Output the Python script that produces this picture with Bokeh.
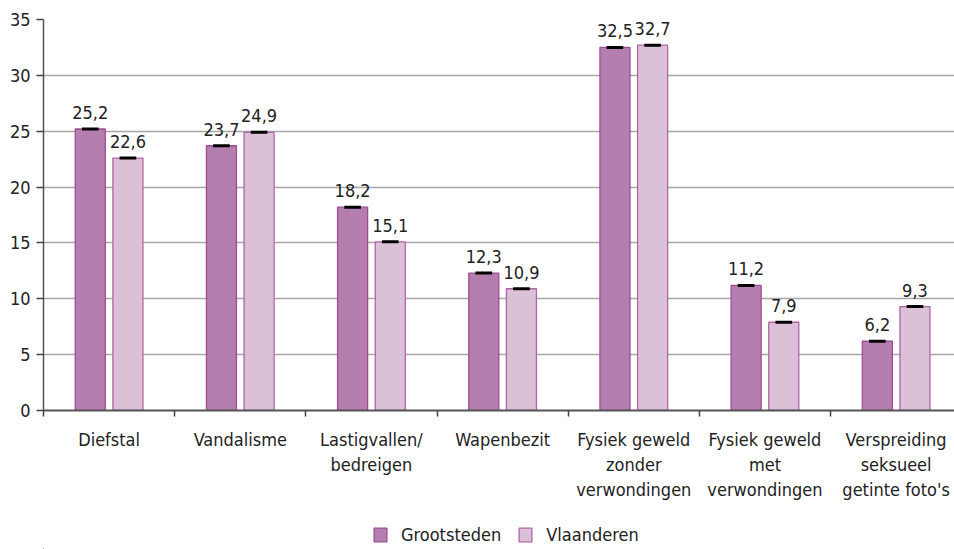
from bokeh.plotting import figure
from bokeh.layouts import column
from bokeh.models import (ColumnDataSource, Range1d, FixedTicker, Legend, LegendItem, Grid)
from bokeh.transform import dodge
from bokeh.core.properties import value
from bokeh.embed import file_html
from bokeh.resources import INLINE

categories = ["Diefstal", "Vandalisme", "Lastigvallen/\nbedreigen", "Wapenbezit",
              "Fysiek geweld\nzonder\nverwondingen", "Fysiek geweld\nmet\nverwondingen",
              "Verspreiding\nseksueel\ngetinte foto's"]
grootsteden = [25.2, 23.7, 18.2, 12.3, 32.5, 11.2, 6.2]
vlaanderen = [22.6, 24.9, 15.1, 10.9, 32.7, 7.9, 9.3]
grootsteden_lbl = ["25,2", "23,7", "18,2", "12,3", "32,5", "11,2", "6,2"]
vlaanderen_lbl = ["22,6", "24,9", "15,1", "10,9", "32,7", "7,9", "9,3"]
y_ticks = [0, 5, 10, 15, 20, 25, 30, 35]
series_names = ["Grootsteden", "Vlaanderen"]

FONT = "DejaVu Sans Condensed"
FS = "18px"
TXT = "#222222"
G_FILL, G_LINE = "#b47eae", "#9c4d94"
V_FILL, V_LINE = "#dbc1d7", "#b064a8"

centers = [i + 0.5 for i in range(len(categories))]
bounds = list(range(len(categories) + 1))
src = ColumnDataSource(dict(x=centers, g=grootsteden, v=vlaanderen,
                            gl=grootsteden_lbl, vl=vlaanderen_lbl))

p = figure(width=954, height=520, output_backend="svg", toolbar_location=None,
           x_range=Range1d(0, 6.945), y_range=Range1d(0, 35),
           min_border_left=43, min_border_right=0, min_border_top=19,
           min_border_bottom=110)
p.outline_line_color = None

# bars
off = 0.1435
bw = 0.229
p.vbar(x=dodge("x", -off), top="g", width=bw, source=src,
       fill_color=G_FILL, line_color=G_LINE, line_width=1.3)
p.vbar(x=dodge("x", off), top="v", width=bw, source=src,
       fill_color=V_FILL, line_color=V_LINE, line_width=1.3)

# error caps
p.rect(x=dodge("x", -off), y="g", width=0.127, height=3, height_units="screen",
       source=src, fill_color="black", line_color=None)
p.rect(x=dodge("x", off), y="v", width=0.127, height=3, height_units="screen",
       source=src, fill_color="black", line_color=None)

# value labels
for col, lbl, o in (("g", "gl", -off), ("v", "vl", off)):
    p.text(x=dodge("x", o), y=col, text=lbl, source=src, y_offset=-10,
           text_align="center", text_baseline="bottom",
           text_font=value(FONT), text_font_size=FS, text_color=TXT)

# axes
xa = p.xaxis[0]
xa.ticker = FixedTicker(ticks=centers, minor_ticks=bounds)
xa.major_label_overrides = {c: lab for c, lab in zip(centers, categories)}
xa.major_tick_line_color = None
xa.major_tick_out = 0
xa.major_tick_in = 0
xa.minor_tick_line_color = "#444444"
xa.minor_tick_line_width = 1.5
xa.minor_tick_out = 6
xa.minor_tick_in = 0
xa.major_label_standoff = 12
xa.axis_line_color = "#555555"
xa.axis_line_width = 2
xa.major_label_text_font = FONT
xa.major_label_text_font_size = FS
xa.major_label_text_color = TXT

ya = p.yaxis[0]
ya.ticker = FixedTicker(ticks=y_ticks)
ya.minor_tick_line_color = None
ya.major_tick_line_color = "#444444"
ya.major_tick_line_width = 1.5
ya.major_tick_out = 7
ya.major_tick_in = 0
ya.major_label_standoff = 6
ya.axis_line_color = "#555555"
ya.axis_line_width = 1.5
ya.major_label_text_font = FONT
ya.major_label_text_font_size = FS
ya.major_label_text_color = TXT

p.xgrid.grid_line_color = None
p.ygrid.ticker = FixedTicker(ticks=y_ticks)
p.ygrid.grid_line_color = "#a6a6a6"
p.ygrid.grid_line_width = 1.5
p.add_layout(Grid(dimension=1, ticker=FixedTicker(ticks=[y_ticks[-1]]),
                  grid_line_color="#333333", grid_line_width=1.5))

# legend strip (same series, kept outside its visible range so only the legend shows)
lg = figure(width=954, height=29, output_backend="svg", toolbar_location=None,
            x_range=Range1d(1000, 1001), y_range=Range1d(1000, 1001),
            min_border=0, x_axis_type=None, y_axis_type=None)
lg.outline_line_color = None
lg.grid.grid_line_color = None
r1 = lg.vbar(x=dodge("x", -off), top="g", width=bw, source=src,
             fill_color=G_FILL, line_color=G_LINE, line_width=1.3)
r2 = lg.vbar(x=dodge("x", off), top="v", width=bw, source=src,
             fill_color=V_FILL, line_color=V_LINE, line_width=1.3)
legend = Legend(items=[LegendItem(label=series_names[0], renderers=[r1]),
                       LegendItem(label=series_names[1], renderers=[r2])],
                location=(329, 4), orientation="horizontal",
                padding=0, margin=0, spacing=16, label_standoff=13,
                glyph_width=16, glyph_height=17, label_height=17,
                border_line_color=None, background_fill_alpha=0,
                label_text_font=FONT, label_text_font_size=FS,
                label_text_color=TXT)
lg.add_layout(legend)

layout = column(p, lg, spacing=0)
open("out.html", "w").write(file_html(layout, INLINE))
